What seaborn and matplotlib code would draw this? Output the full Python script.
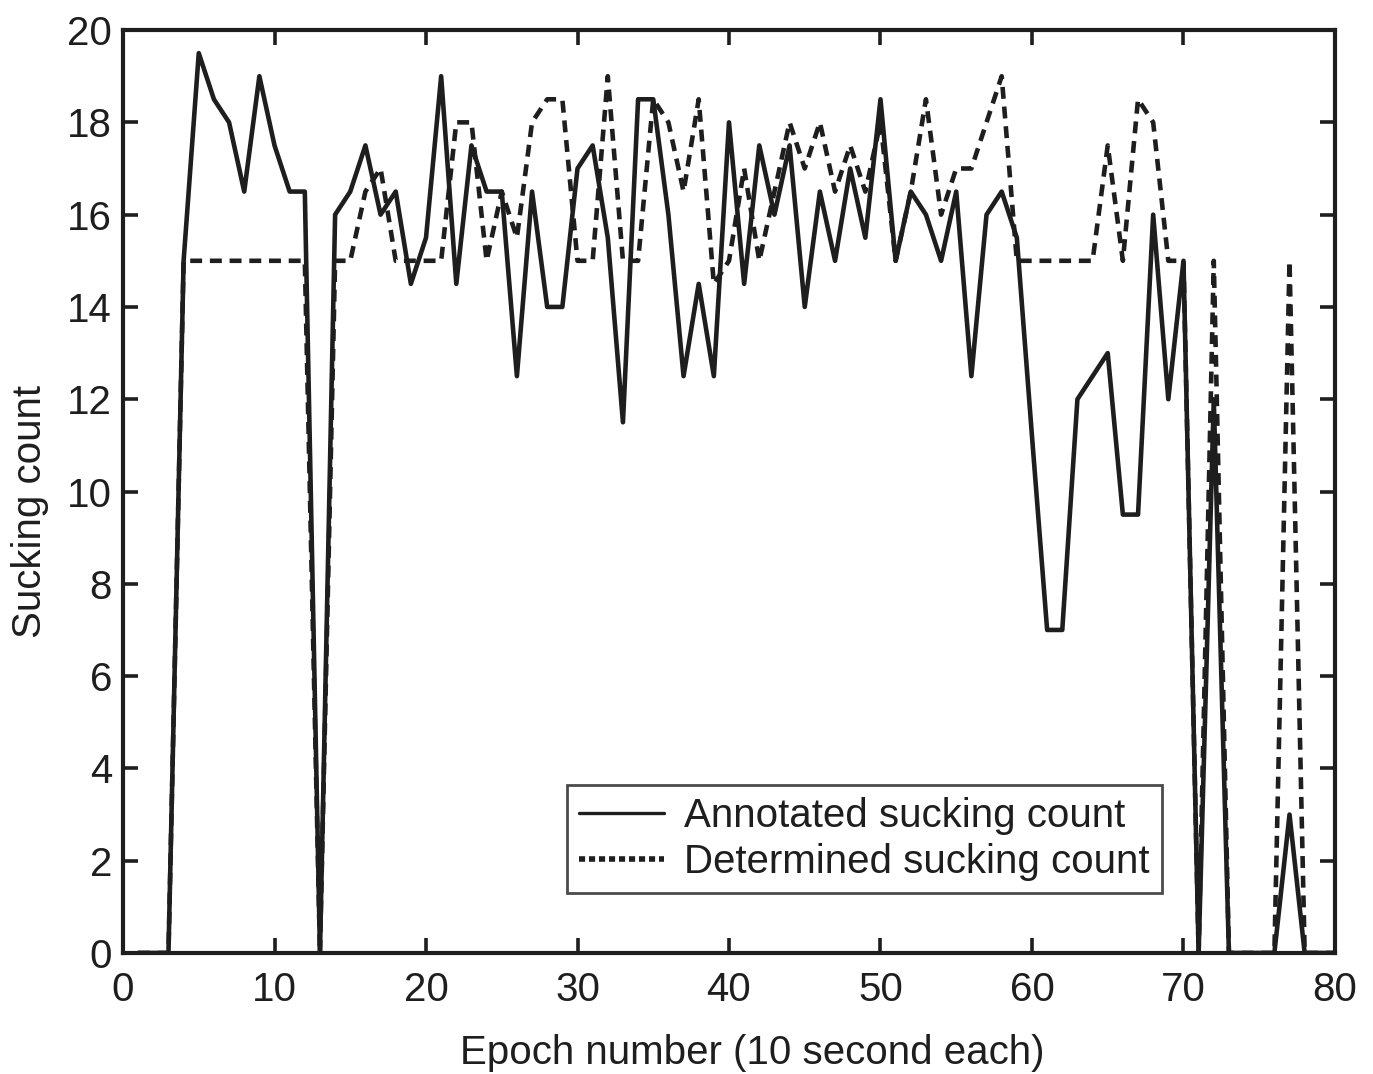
import pandas as pd
import matplotlib.pyplot as plt
import seaborn as sns

# ==========================================
# Data (epochs 1..80)
# ==========================================
epochs = list(range(1, 81))

annotated = [
    0, 0, 0, 15, 19.5, 18.5, 18, 16.5, 19, 17.5,          # 1-10
    16.5, 16.5, 0, 16, 16.5, 17.5, 16, 16.5, 14.5, 15.5,  # 11-20
    19, 14.5, 17.5, 16.5, 16.5, 12.5, 16.5, 14, 14, 17,   # 21-30
    17.5, 15.5, 11.5, 18.5, 18.5, 16, 12.5, 14.5, 12.5, 18,  # 31-40
    14.5, 17.5, 16, 17.5, 14, 16.5, 15, 17, 15.5, 18.5,   # 41-50
    15, 16.5, 16, 15, 16.5, 12.5, 16, 16.5, 15.5, 11.2,   # 51-60
    7, 7, 12, 12.5, 13, 9.5, 9.5, 16, 12, 15,             # 61-70
    0, 12, 0, 0, 0, 0, 3, 0, 0, 0,                        # 71-80
]

determined = [
    0, 0, 0, 15, 15, 15, 15, 15, 15, 15,                  # 1-10
    15, 15, 0, 15, 15, 16.5, 17, 15, 15, 15,              # 11-20
    15, 18, 18, 15, 16.5, 15.5, 18, 18.5, 18.5, 15,       # 21-30
    15, 19, 15, 15, 18.5, 18, 16.5, 18.5, 14.5, 15,       # 31-40
    17, 15, 16.5, 18, 17, 18, 16.5, 17.5, 16.5, 18,       # 41-50
    15, 16.5, 18.5, 16, 17, 17, 18, 19, 15, 15,           # 51-60
    15, 15, 15, 15, 17.5, 15, 18.5, 18, 15, 15,           # 61-70
    0, 15, 0, 0, 0, 0, 15, 0, 0, 0,                       # 71-80
]

series_names = ['Annotated sucking count', 'Determined sucking count']

x_ticks = list(range(0, 81, 10))
y_ticks = list(range(0, 21, 2))


def main():
    df = pd.DataFrame({'epoch': epochs,
                       series_names[0]: annotated,
                       series_names[1]: determined})
    long_df = df.melt(id_vars='epoch', var_name='series', value_name='count')

    sns.set_theme(style="ticks")
    plt.rcParams['font.family'] = ['Liberation Sans', 'DejaVu Sans']

    fig = plt.figure(figsize=(13.73, 10.74), dpi=100)
    ax = fig.add_axes([0.0896, 0.1127, 0.8827, 0.8593])

    ink = '#1e1e1e'
    sns.lineplot(data=long_df, x='epoch', y='count', style='series',
                 style_order=series_names,
                 dashes={series_names[0]: '', series_names[1]: (2.6, 1.7)},
                 color=ink, linewidth=3.3, ax=ax)

    ax.set_xlim(0, 80)
    ax.set_ylim(0, 20)
    ax.set_xticks(x_ticks)
    ax.set_yticks(y_ticks)
    ax.tick_params(direction='in', length=11, width=2.6, labelsize=29,
                   top=True, right=True, colors=ink, pad=8)
    ax.tick_params(axis='x', pad=13)
    for sp in ax.spines.values():
        sp.set_linewidth(3.0)
        sp.set_color(ink)

    ax.set_xlabel('Epoch number (10 second each)', fontsize=29, color=ink)
    ax.set_ylabel('Sucking count', fontsize=29, color=ink)
    ax.xaxis.set_label_coords(0.519, -0.088)
    ax.yaxis.set_label_coords(-0.061, 0.478)

    leg = ax.legend(loc='lower right', bbox_to_anchor=(0.857, 0.065),
                    fontsize=29, frameon=True, fancybox=False,
                    handlelength=2.1, borderpad=0.3, labelspacing=0.2,
                    handletextpad=0.5, borderaxespad=0)
    leg.get_frame().set_edgecolor(ink)
    leg.get_frame().set_linewidth(2.0)
    for t in leg.get_texts():
        t.set_color(ink)
    # legend handle for the determined series is drawn with a tighter dash
    handles = leg.get_lines()
    handles[0].set_linewidth(2.4)
    handles[1].set_linewidth(4.0)
    handles[1].set_dashes((1.1, 0.7))

    fig.savefig('out.png', dpi=100, facecolor='white')
    plt.close(fig)


if __name__ == "__main__":
    main()
